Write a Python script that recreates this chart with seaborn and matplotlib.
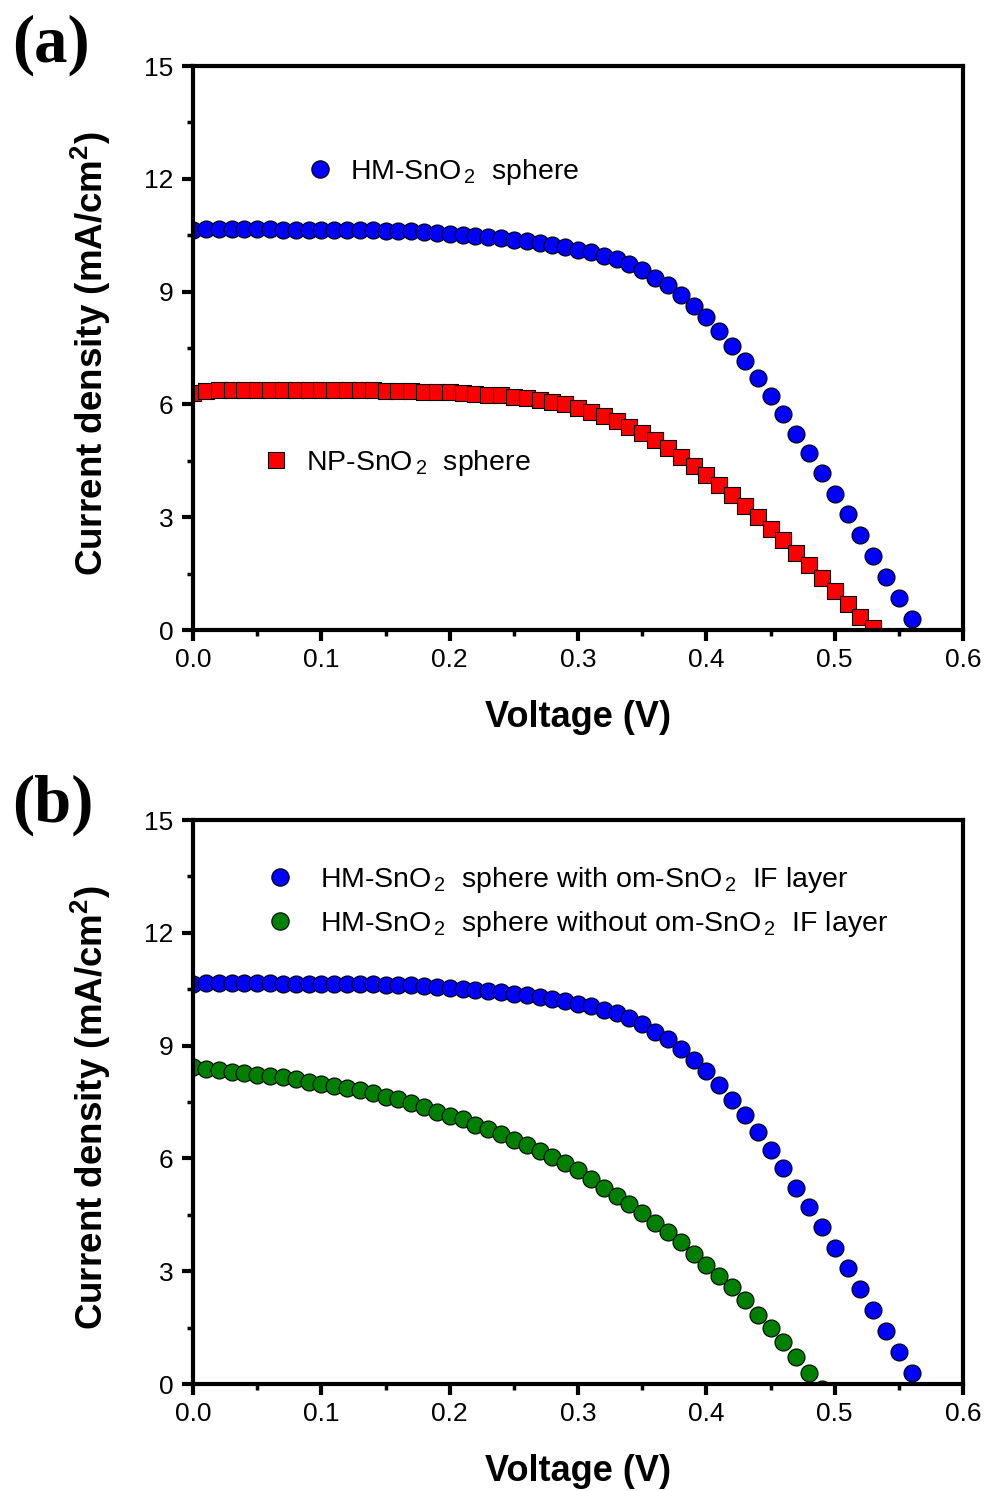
import matplotlib
matplotlib.use("Agg")
import matplotlib.pyplot as plt
import seaborn as sns
from matplotlib.lines import Line2D
from matplotlib.ticker import FormatStrFormatter, MultipleLocator


# J-V data (V in volts, J in mA/cm2)
VOLTAGE = [
    0.00, 0.01, 0.02, 0.03, 0.04, 0.05, 0.06, 0.07, 0.08, 0.09,
    0.10, 0.11, 0.12, 0.13, 0.14, 0.15, 0.16, 0.17, 0.18, 0.19,
    0.20, 0.21, 0.22, 0.23, 0.24, 0.25, 0.26, 0.27, 0.28, 0.29,
    0.30, 0.31, 0.32, 0.33, 0.34, 0.35, 0.36, 0.37, 0.38, 0.39,
    0.40, 0.41, 0.42, 0.43, 0.44, 0.45, 0.46, 0.47, 0.48, 0.49,
    0.50, 0.51, 0.52, 0.53, 0.54, 0.55, 0.56,
]

HM_SPHERE = [
    10.64, 10.66, 10.66, 10.66, 10.66, 10.66, 10.66, 10.65, 10.65, 10.65,
    10.65, 10.64, 10.64, 10.64, 10.63, 10.62, 10.61, 10.60, 10.58, 10.56,
    10.54, 10.51, 10.48, 10.45, 10.42, 10.38, 10.34, 10.29, 10.24, 10.18,
    10.11, 10.04, 9.95, 9.86, 9.73, 9.57, 9.37, 9.17, 8.91, 8.63,
    8.32, 7.96, 7.56, 7.15, 6.70, 6.23, 5.74, 5.22, 4.71, 4.17,
    3.62, 3.08, 2.53, 1.97, 1.40, 0.85, 0.28,
]

NP_SPHERE = [
    6.31, 6.36, 6.37, 6.38, 6.38, 6.38, 6.39, 6.38, 6.38, 6.38,
    6.38, 6.38, 6.37, 6.37, 6.37, 6.36, 6.36, 6.35, 6.34, 6.33,
    6.32, 6.30, 6.28, 6.26, 6.24, 6.21, 6.17, 6.12, 6.07, 6.01,
    5.90, 5.81, 5.69, 5.57, 5.41, 5.23, 5.04, 4.83, 4.61, 4.36,
    4.12, 3.86, 3.58, 3.30, 3.00, 2.69, 2.39, 2.06, 1.74, 1.39,
    1.05, 0.70, 0.35, 0.04,
]

HM_NO_IF = [
    8.42, 8.39, 8.35, 8.30, 8.28, 8.22, 8.19, 8.16, 8.10, 8.04,
    7.98, 7.93, 7.87, 7.82, 7.73, 7.64, 7.57, 7.47, 7.38, 7.24,
    7.13, 7.04, 6.89, 6.77, 6.65, 6.49, 6.36, 6.21, 6.05, 5.88,
    5.68, 5.45, 5.22, 5.00, 4.78, 4.56, 4.29, 4.05, 3.77, 3.47,
    3.16, 2.87, 2.59, 2.23, 1.84, 1.48, 1.11, 0.71, 0.29, -0.12,
]

SUB2 = "$_{\\,2}$ "
LABEL_HM = f"HM-SnO{SUB2} sphere"
LABEL_NP = f"NP-SnO{SUB2} sphere"
LABEL_WITH = f"HM-SnO{SUB2} sphere with om-SnO{SUB2} IF layer"
LABEL_WITHOUT = f"HM-SnO{SUB2} sphere without om-SnO{SUB2} IF layer"

BLUE = "#0000FF"
RED = "#FF0000"
GREEN = "#008000"

sns.set_style("ticks")
plt.rcParams["font.family"] = ["Liberation Sans", "DejaVu Sans"]
plt.rcParams["mathtext.fontset"] = "custom"
plt.rcParams["mathtext.rm"] = "Liberation Sans"
plt.rcParams["mathtext.it"] = "Liberation Sans:italic"
plt.rcParams["mathtext.bf"] = "Liberation Sans:bold"
for key in ["text.color", "axes.labelcolor", "xtick.color", "ytick.color",
            "xtick.labelcolor", "ytick.labelcolor", "axes.edgecolor"]:
    plt.rcParams[key] = "black"

CIRCLE_S = 150
SQUARE_S = 118
EDGE_W = 0.8
TICK_SIZE = 19
LEGEND_SIZE = 20.5


def style_axes(ax):
    ax.set_xlim(0, 0.6)
    ax.set_ylim(0, 15)
    ax.xaxis.set_major_locator(MultipleLocator(0.1))
    ax.xaxis.set_minor_locator(MultipleLocator(0.05))
    ax.yaxis.set_major_locator(MultipleLocator(3))
    ax.yaxis.set_minor_locator(MultipleLocator(1.5))
    ax.xaxis.set_major_formatter(FormatStrFormatter("%.1f"))
    for spine in ax.spines.values():
        spine.set_visible(True)
        spine.set_linewidth(3)
        spine.set_color("black")
    ax.tick_params(which="major", direction="out", length=8, width=3,
                   labelsize=TICK_SIZE, color="black", labelcolor="black",
                   top=False, right=False)
    ax.tick_params(which="minor", direction="out", length=4, width=2.5,
                   color="black", top=False, right=False)
    ax.tick_params(axis="x", which="major", pad=5)
    ax.tick_params(axis="y", which="major", pad=6)
    ax.set_xlabel("Voltage (V)", fontsize=26, fontweight="bold")
    ax.set_ylabel("Current density (mA/cm$^\\mathbf{2}$)", fontsize=26.5,
                  fontweight="bold")
    ax.xaxis.set_label_coords(0.5, -0.124)
    ax.yaxis.set_label_coords(-0.104, 0.49)
    ax.grid(False)


def marker_handle(color, marker, size):
    return Line2D([], [], linestyle="none", marker=marker, markersize=size,
                  markerfacecolor=color, markeredgecolor="black",
                  markeredgewidth=EDGE_W)


fig = plt.figure(figsize=(9.86, 14.91), dpi=100)
ax_a = fig.add_axes([193 / 986, 1 - 630 / 1491, 770 / 986, 564 / 1491])
ax_b = fig.add_axes([193 / 986, 1 - 1384 / 1491, 770 / 986, 564 / 1491])

# panel (a)
sns.scatterplot(x=VOLTAGE, y=HM_SPHERE, ax=ax_a, color=BLUE, marker="o",
                s=CIRCLE_S, edgecolor="black", linewidth=EDGE_W, legend=False)
sns.scatterplot(x=VOLTAGE[:len(NP_SPHERE)], y=NP_SPHERE, ax=ax_a, color=RED,
                marker="s", s=SQUARE_S, edgecolor="black", linewidth=EDGE_W,
                legend=False)
style_axes(ax_a)

leg_hm = ax_a.legend(handles=[marker_handle(BLUE, "o", 12.5)], labels=[LABEL_HM],
                     loc="center left", bbox_to_anchor=(0.1465, 0.812),
                     frameon=False, fontsize=LEGEND_SIZE, handlelength=1.0,
                     handletextpad=0.55, borderpad=0, borderaxespad=0)
ax_a.add_artist(leg_hm)
ax_a.legend(handles=[marker_handle(RED, "s", 11)], labels=[LABEL_NP],
            loc="center left", bbox_to_anchor=(0.0894, 0.296),
            frameon=False, fontsize=LEGEND_SIZE, handlelength=1.0,
            handletextpad=0.55, borderpad=0, borderaxespad=0)

# panel (b)
sns.scatterplot(x=VOLTAGE, y=HM_SPHERE, ax=ax_b, color=BLUE, marker="o",
                s=CIRCLE_S, edgecolor="black", linewidth=EDGE_W, legend=False)
sns.scatterplot(x=VOLTAGE[:len(HM_NO_IF)], y=HM_NO_IF, ax=ax_b, color=GREEN,
                marker="o", s=CIRCLE_S, edgecolor="black", linewidth=EDGE_W,
                legend=False)
style_axes(ax_b)

ax_b.legend(handles=[marker_handle(BLUE, "o", 12.5), marker_handle(GREEN, "o", 12.5)],
            labels=[LABEL_WITH, LABEL_WITHOUT],
            loc="center left", bbox_to_anchor=(0.0945, 0.854),
            frameon=False, fontsize=LEGEND_SIZE, handlelength=1.0,
            handletextpad=0.9, borderpad=0, borderaxespad=0,
            labelspacing=0.5)

fig.text(12 / 986, 1 - 45 / 1491, "(a)", family="Liberation Serif",
         fontweight="bold", fontsize=48, ha="left", va="center")
fig.text(12 / 986, 1 - 805 / 1491, "(b)", family="Liberation Serif",
         fontweight="bold", fontsize=48, ha="left", va="center")

fig.savefig("out.png", dpi=100)
